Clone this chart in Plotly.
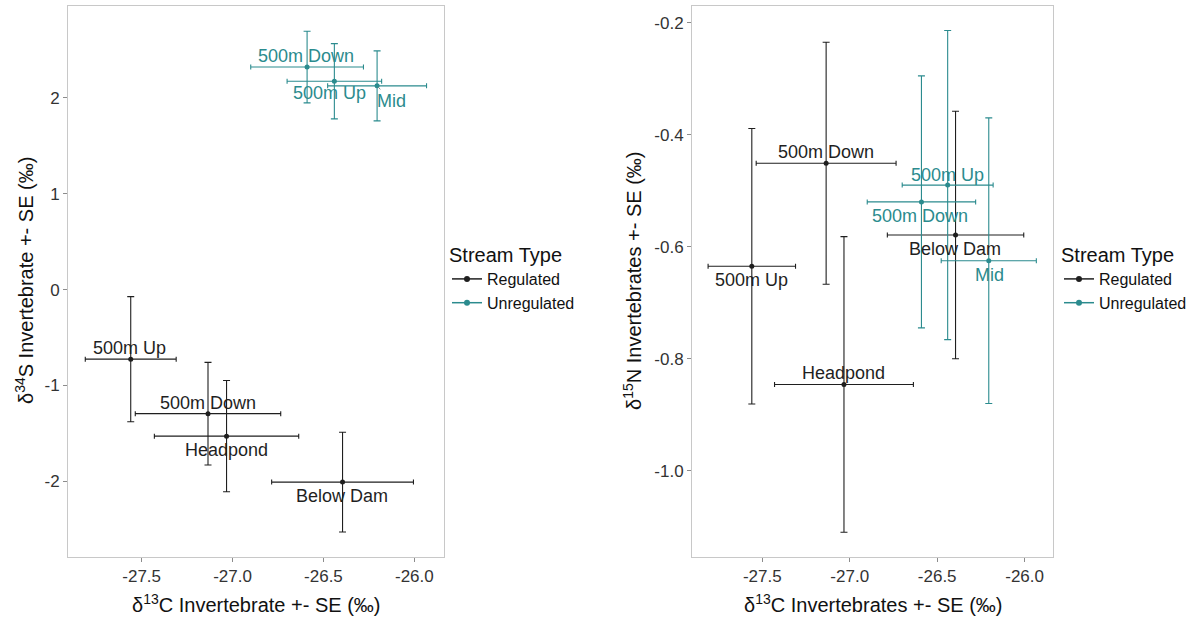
import plotly.graph_objects as go

# Regulated sites (shared d13C values for both panels)
reg_sites = ["500m Up", "500m Down", "Headpond", "Below Dam"]
reg_c13 = [-27.56, -27.135, -27.033, -26.395]
reg_c13_se = [0.25, 0.40, 0.397, 0.39]
reg_s34 = [-0.725, -1.293, -1.528, -2.007]
reg_s34_se = [0.652, 0.535, 0.58, 0.52]
reg_n15 = [-0.635, -0.451, -0.846, -0.579]
reg_n15_se = [0.246, 0.216, 0.264, 0.221]

# Unregulated sites
unr_sites = ["500m Down", "500m Up", "Mid"]
unr_c13 = [-26.59, -26.44, -26.205]
unr_c13_se = [0.31, 0.26, 0.272]
unr_s34 = [2.321, 2.173, 2.125]
unr_s34_se = [0.373, 0.392, 0.365]
unr_n15 = [-0.52, -0.49, -0.625]
unr_n15_se = [0.225, 0.276, 0.255]

x_ticks = [-27.5, -27.0, -26.5, -26.0]
s34_ticks = [-2, -1, 0, 1, 2]
n15_ticks = [-1.0, -0.8, -0.6, -0.4, -0.2]

REG_COL = "#1f1f1f"
UNR_COL = "#2b8b8e"
FONT = "Liberation Sans, Arial, sans-serif"

# label offsets in pixels (dx, dy; dy positive = up)
reg_off_left = [(-1, 11), (0, 11), (0, -14), (-1, -14)]
unr_off_left = [(-1, 11), (-5, -12), (14, -15)]
reg_off_right = [(0, -14), (0, 11), (0, 11), (-1, -14)]
unr_off_right = [(-1, -14), (0, 10), (1, -14)]

fig = go.Figure()


def add_series(xv, xe, yv, ye, col, xa, ya, name, legend):
    fig.add_trace(go.Scatter(
        x=xv, y=yv, mode="markers",
        marker=dict(color=col, size=5),
        error_x=dict(type="data", array=xe, color=col, thickness=1.1, width=2.5),
        error_y=dict(type="data", array=ye, color=col, thickness=1.1, width=3.5),
        xaxis=xa, yaxis=ya, showlegend=False, name=name,
    ))
    # legend key
    fig.add_trace(go.Scatter(
        x=[None], y=[None], mode="lines+markers", name=name,
        line=dict(color=col, width=1.5), marker=dict(color=col, size=6),
        xaxis=xa, yaxis=ya, legend=legend, showlegend=True,
    ))


add_series(reg_c13, reg_c13_se, reg_s34, reg_s34_se, REG_COL, "x", "y", "Regulated", "legend")
add_series(unr_c13, unr_c13_se, unr_s34, unr_s34_se, UNR_COL, "x", "y", "Unregulated", "legend")
add_series(reg_c13, reg_c13_se, reg_n15, reg_n15_se, REG_COL, "x2", "y2", "Regulated", "legend2")
add_series(unr_c13, unr_c13_se, unr_n15, unr_n15_se, UNR_COL, "x2", "y2", "Unregulated", "legend2")

annotations = []


def add_labels(sites, xv, yv, offs, col, xr, yr, arrow_site=None):
    for s, x, y, (dx, dy) in zip(sites, xv, yv, offs):
        a = dict(x=x, y=y, xref=xr, yref=yr, text=s,
                 font=dict(family=FONT, size=18, color=col))
        if s == arrow_site:
            a.update(showarrow=True, arrowhead=0, arrowwidth=1, arrowcolor="#888888",
                     ax=dx, ay=-dy, standoff=2, startstandoff=0)
        else:
            a.update(showarrow=False, xshift=dx, yshift=dy)
        annotations.append(a)


add_labels(reg_sites, reg_c13, reg_s34, reg_off_left, REG_COL, "x", "y")
add_labels(unr_sites, unr_c13, unr_s34, unr_off_left, UNR_COL, "x", "y", arrow_site="Mid")
add_labels(reg_sites, reg_c13, reg_n15, reg_off_right, REG_COL, "x2", "y2")
add_labels(unr_sites, unr_c13, unr_n15, unr_off_right, UNR_COL, "x2", "y2")

# axis titles
title_font = dict(family=FONT, size=20, color="#111111")
annotations += [
    dict(x=(68 + 444) / 2 / 1195, y=1 - 603 / 617, xref="paper", yref="paper",
         xanchor="center", yanchor="middle",
         text="δ<sup>13</sup>C Invertebrate +- SE (‰)", showarrow=False, font=title_font),
    dict(x=(692 + 1053) / 2 / 1195, y=1 - 603 / 617, xref="paper", yref="paper",
         xanchor="center", yanchor="middle",
         text="δ<sup>13</sup>C Invertebrates +- SE (‰)", showarrow=False, font=title_font),
    dict(x=24 / 1195, y=1 - 281 / 617, xref="paper", yref="paper", textangle=-90,
         xanchor="center", yanchor="middle",
         text="δ<sup>34</sup>S Invertebrate +- SE (‰)", showarrow=False, font=title_font),
    dict(x=632 / 1195, y=1 - 281 / 617, xref="paper", yref="paper", textangle=-90,
         xanchor="center", yanchor="middle",
         text="δ<sup>15</sup>N Invertebrates +- SE (‰)", showarrow=False, font=title_font),
]

ydom = [1 - 556.7 / 617, 1 - 5.7 / 617]
axis_common = dict(showgrid=False, zeroline=False, showline=True, mirror=True,
                   linecolor="#c8c8c8", linewidth=1, ticks="outside", ticklen=4,
                   tickcolor="#8c8c8c", tickfont=dict(family=FONT, size=17, color="#333333"))

legend_common = dict(
    font=dict(family=FONT, size=16, color="#111111"),
    title=dict(text="Stream Type", font=dict(family=FONT, size=20, color="#111111")),
    bgcolor="rgba(0,0,0,0)", xanchor="left", yanchor="top", tracegroupgap=0,
    itemwidth=30,
)

fig.update_layout(
    width=1195, height=617,
    margin=dict(l=0, r=0, t=0, b=0),
    paper_bgcolor="white", plot_bgcolor="white",
    font=dict(family=FONT),
    xaxis=dict(domain=[68 / 1195, 444 / 1195], range=[-27.905, -25.837],
               tickvals=x_ticks, ticktext=["-27.5", "-27.0", "-26.5", "-26.0"],
               anchor="y", **axis_common),
    yaxis=dict(domain=ydom, range=[-2.785, 2.961], tickvals=s34_ticks,
               ticktext=["-2", "-1", "0", "1", "2"], anchor="x", **axis_common),
    xaxis2=dict(domain=[692 / 1195, 1053.3 / 1195], range=[-27.902, -25.836],
                tickvals=x_ticks, ticktext=["-27.5", "-27.0", "-26.5", "-26.0"],
                anchor="y2", **axis_common),
    yaxis2=dict(domain=ydom, range=[-1.1536, -0.1696], tickvals=n15_ticks,
                ticktext=["-1.0", "-0.8", "-0.6", "-0.4", "-0.2"], anchor="x2", **axis_common),
    legend=dict(x=447 / 1195, y=1 - 236 / 617, **legend_common),
    legend2=dict(x=1059 / 1195, y=1 - 236 / 617, **legend_common),
    annotations=annotations,
)

fig.write_html("out.html")
